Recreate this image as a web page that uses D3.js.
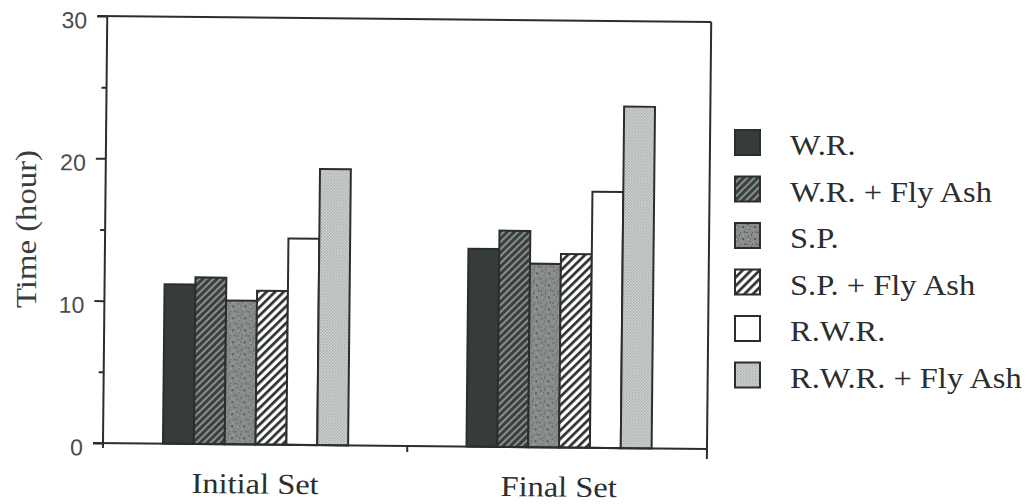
<!DOCTYPE html>
<html>
<head>
<meta charset="utf-8">
<script src="https://cdn.jsdelivr.net/npm/d3@7"></script>
<style>
  body { margin: 0; background: #fff; }
  svg { display: block; }
</style>
</head>
<body>
<svg id="chart"></svg>
<script>
// data
var groups = ['Initial Set', 'Final Set'];
var series = ['W.R.', 'W.R. + Fly Ash', 'S.P.', 'S.P. + Fly Ash', 'R.W.R.', 'R.W.R. + Fly Ash'];
var initialSet = [11.2, 11.7, 10.1, 10.8, 14.5, 19.4];
var finalSet = [13.9, 15.2, 12.9, 13.6, 18.0, 24.0];
var yTicks = [0, 10, 20, 30];
var yMinorTicks = [5, 15, 25];
var yLabel = 'Time (hour)';

var width = 1031;
var height = 504;

// plot frame (before the slight scan tilt)
var margin = {left: 103, right: 707, top: 16, bottom: 443};
var ink = '#2b2e2e';
var serif = '"Liberation Serif", "Times New Roman", serif';

var svg = d3.select('#chart')
  .attr('width', width)
  .attr('height', height);

svg.append('rect')
  .attr('width', width)
  .attr('height', height)
  .attr('fill', '#fff');

// fill patterns
var defs = svg.append('defs');

var p1 = defs.append('pattern')
  .attr('id', 'hatchDark')
  .attr('patternUnits', 'userSpaceOnUse')
  .attr('width', 5).attr('height', 5)
  .attr('patternTransform', 'rotate(45)');
p1.append('rect').attr('width', 5).attr('height', 5).attr('fill', '#3a3f3f');
p1.append('line').attr('x1', 1).attr('y1', 0).attr('x2', 1).attr('y2', 5)
  .attr('stroke', '#b4b8b8').attr('stroke-width', 1.3);

var p2 = defs.append('pattern')
  .attr('id', 'hatchLight')
  .attr('patternUnits', 'userSpaceOnUse')
  .attr('width', 6).attr('height', 6)
  .attr('patternTransform', 'rotate(45)');
p2.append('rect').attr('width', 6).attr('height', 6).attr('fill', '#fff');
p2.append('line').attr('x1', 1.4).attr('y1', 0).attr('x2', 1.4).attr('y2', 6)
  .attr('stroke', '#252828').attr('stroke-width', 2.6);

var p3 = defs.append('pattern')
  .attr('id', 'mottle')
  .attr('patternUnits', 'userSpaceOnUse')
  .attr('width', 12).attr('height', 12);
p3.append('rect').attr('width', 12).attr('height', 12).attr('fill', '#8a8c8c');
[[1, 2, 2, 1], [5, 0, 1, 2], [8, 4, 2, 2], [3, 7, 1, 1], [10, 9, 1, 2], [0, 10, 2, 1], [6, 10, 1, 1], [4, 4, 1, 1]]
  .forEach(function(s) {
    p3.append('rect').attr('x', s[0]).attr('y', s[1]).attr('width', s[2]).attr('height', s[3])
      .attr('fill', '#5a5d5d');
  });
[[9, 1, 1, 1], [2, 5, 1, 1], [7, 7, 1, 1]].forEach(function(s) {
  p3.append('rect').attr('x', s[0]).attr('y', s[1]).attr('width', s[2]).attr('height', s[3])
    .attr('fill', '#b0b3b3');
});

var p4 = defs.append('pattern')
  .attr('id', 'dots')
  .attr('patternUnits', 'userSpaceOnUse')
  .attr('width', 3).attr('height', 3);
p4.append('rect').attr('width', 3).attr('height', 3).attr('fill', '#e0e2e2');
p4.append('rect').attr('width', 1.5).attr('height', 1.5).attr('fill', '#999c9c');
p4.append('rect').attr('x', 1.5).attr('y', 1.5).attr('width', 1.5).attr('height', 1.5).attr('fill', '#a8abab');

var fills = ['#363c3c', 'url(#hatchDark)', 'url(#mottle)', 'url(#hatchLight)', '#fff', 'url(#dots)'];

// scales
var x0 = d3.scaleBand()
  .domain(groups)
  .range([margin.left, margin.right])
  .paddingInner(0.39)
  .paddingOuter(0.19)
  .align(0.52);

var x1 = d3.scaleBand()
  .domain(series)
  .range([0, x0.bandwidth()]);

var y = d3.scaleLinear()
  .domain([0, 30])
  .range([margin.bottom, margin.top]);

var color = d3.scaleOrdinal().domain(series).range(fills);

// the scanned figure is tilted a little clockwise
var plot = svg.append('g')
  .attr('transform', 'rotate(0.57,' + margin.left + ',' + margin.bottom + ')');

// bars
var rows = groups.map(function(g, i) {
  var vals = i === 0 ? initialSet : finalSet;
  return series.map(function(s, j) { return {group: g, key: s, value: vals[j]}; });
});

plot.selectAll('g.set')
  .data(rows)
  .enter()
  .append('g')
    .attr('class', 'set')
    .attr('transform', function(d) { return 'translate(' + x0(d[0].group) + ',0)'; })
  .selectAll('rect')
  .data(function(d) { return d; })
  .enter()
  .append('rect')
    .attr('x', function(d) { return x1(d.key); })
    .attr('y', function(d) { return y(d.value); })
    .attr('width', x1.bandwidth())
    .attr('height', function(d) { return y(0) - y(d.value); })
    .attr('fill', function(d) { return color(d.key); })
    .attr('stroke', ink)
    .attr('stroke-width', 2);

// y axis, major and minor ticks
var yAxis = plot.append('g')
  .attr('transform', 'translate(' + margin.left + ',0)')
  .call(d3.axisLeft(y).tickValues(yTicks).tickSize(10).tickSizeOuter(0).tickPadding(10));
yAxis.select('.domain').remove();
yAxis.selectAll('line').attr('stroke', ink).attr('stroke-width', 2);
yAxis.selectAll('text')
  .attr('dy', '0.52em')
  .style('font-family', '"Liberation Sans", Arial, sans-serif')
  .style('font-size', '23px')
  .attr('fill', '#4a4d4d');

var yMinor = plot.append('g')
  .attr('transform', 'translate(' + margin.left + ',0)')
  .call(d3.axisLeft(y).tickValues(yMinorTicks).tickSize(5).tickSizeOuter(0).tickFormat(''));
yMinor.select('.domain').remove();
yMinor.selectAll('line').attr('stroke', ink).attr('stroke-width', 2);

// frame
var frame = plot.append('g')
  .attr('stroke', ink)
  .attr('stroke-width', 2)
  .attr('fill', 'none');
frame.append('line').attr('x1', margin.left).attr('x2', margin.left).attr('y1', y(30)).attr('y2', y(0) + 5);
frame.append('line').attr('x1', margin.left - 10).attr('x2', margin.right).attr('y1', y(30)).attr('y2', y(30));
frame.append('line').attr('x1', margin.right).attr('x2', margin.right).attr('y1', y(30)).attr('y2', y(0) + 10);
frame.append('line').attr('x1', margin.left - 10).attr('x2', margin.right).attr('y1', y(0)).attr('y2', y(0));

// tick between the two sets
var midX = (x0(groups[0]) + x0.bandwidth() + x0(groups[1])) / 2;
frame.append('line').attr('x1', midX).attr('x2', midX).attr('y1', y(0)).attr('y2', y(0) + 6);

// category labels
plot.selectAll('text.cat')
  .data(groups)
  .enter()
  .append('text')
    .attr('class', 'cat')
    .attr('transform', function(d) {
      return 'translate(' + (x0(d) + x0.bandwidth() / 2) + ',' + (margin.bottom + 49) + ') scale(1.12,1)';
    })
    .attr('text-anchor', 'middle')
    .style('font-family', serif)
    .style('font-size', '29px')
    .attr('fill', ink)
    .text(function(d) { return d; });

// y axis title
svg.append('text')
  .attr('transform', 'translate(36,229) rotate(-90) scale(1.13,1)')
  .attr('text-anchor', 'middle')
  .style('font-family', serif)
  .style('font-size', '29px')
  .attr('fill', '#3a3d3d')
  .text(yLabel);

// legend
var ly = d3.scalePoint().domain(series).range([129, 361.5]);
var box = 27;
var legend = svg.append('g');
var item = legend.selectAll('g')
  .data(series)
  .enter()
  .append('g')
    .attr('transform', function(d) { return 'translate(734,' + ly(d) + ')'; });
item.append('rect')
  .attr('x', 1)
  .attr('y', 1)
  .attr('width', box - 2)
  .attr('height', box - 2)
  .attr('fill', function(d) { return color(d); })
  .attr('stroke', ink)
  .attr('stroke-width', 2);
item.append('text')
  .attr('transform', 'translate(56,' + (box - 1) + ') scale(1.12,1)')
  .style('font-family', serif)
  .style('font-size', '29px')
  .attr('fill', ink)
  .text(function(d) { return d; });
</script>
</body>
</html>
